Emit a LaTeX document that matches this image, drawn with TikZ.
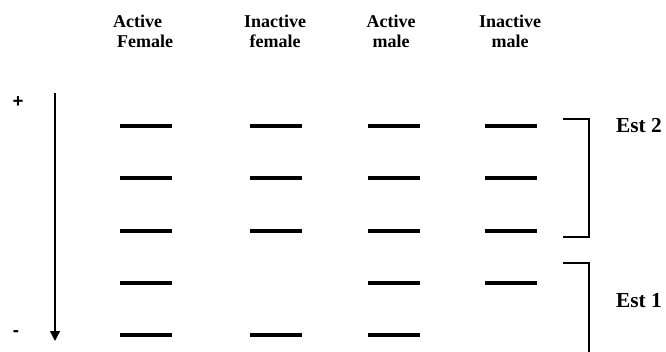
\documentclass[tikz,border=0pt]{standalone}
\usepackage{fontspec}
\setmainfont{Liberation Serif}
\newfontfamily\signfont{Liberation Sans}
\usepackage{tikz}
\usetikzlibrary{arrows.meta, positioning}

\begin{document}
\begin{tikzpicture}[x=0.75pt, y=-0.75pt,
  band/.style={line width=3pt},
  lane/.style={font=\fontsize{13.5}{15}\selectfont\bfseries, align=center},
  est/.style={font=\fontsize{16}{18}\selectfont\bfseries},
  sign/.style={font=\signfont\fontsize{14}{16}\selectfont\bfseries},
  bracketline/.style={line width=0.8pt}]
\useasboundingbox (0,0) rectangle (666,352);
% lane titles
\node[lane, align=left] (afem) at (143,31) {Active\\ \hspace*{3pt}Female};
\node[lane] (ifem) at (275,31) {Inactive\\ female};
\node[lane] (amal) at (391,31) {Active\\ male};
\node[lane] (imal) at (510,31) {Inactive\\ male};
% migration direction
\coordinate (top) at (55,93);
\coordinate (bot) at (55,341);
\draw[line width=1pt, -{Triangle[length=7.5pt, width=7.5pt]}] (top) -- (bot);
\node[sign] (plus) at (18,102) {+};
\node[sign] (minus) at (16,334) {-};
% bands
\foreach \y in {126,178,231,283,335} \draw[band] (120,\y) -- (172,\y);
\foreach \y in {126,178,231,335} \draw[band] (250,\y) -- (302,\y);
\foreach \y in {126,178,231,283,335} \draw[band] (368,\y) -- (420,\y);
\foreach \y in {126,178,231,283} \draw[band] (485,\y) -- (537,\y);
% isozyme brackets
\draw[bracketline] (563,119) -- (589,119) -- (589,237) -- (563,237);
\draw[bracketline] (563,263) -- (589,263) -- (589,352);
\node[est] (est2) at (639,126) {Est 2};
\node[est] (est1) at (639,301) {Est 1};
\end{tikzpicture}
\end{document}
